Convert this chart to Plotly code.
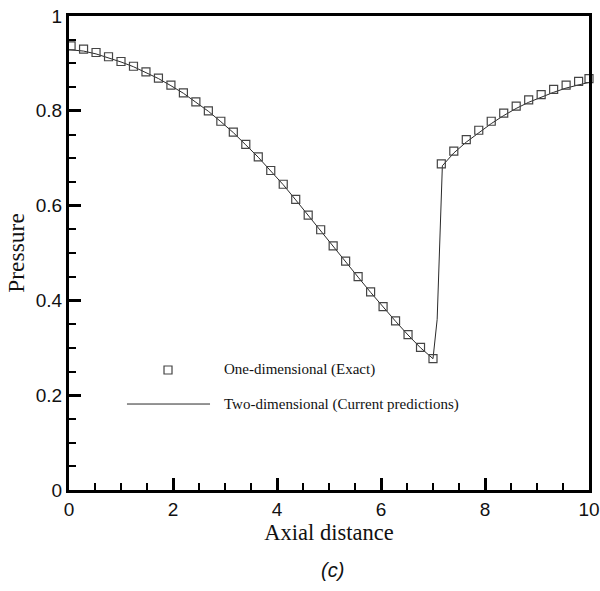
import plotly.graph_objects as go

# One-dimensional exact solution (square markers)
exact_x = [0.04, 0.28, 0.52, 0.76, 1.00, 1.24, 1.48, 1.72, 1.96, 2.20,
           2.44, 2.68, 2.92, 3.16, 3.40, 3.64, 3.88, 4.12, 4.36, 4.60,
           4.84, 5.08, 5.32, 5.56, 5.80, 6.04, 6.28, 6.52, 6.76, 7.00,
           7.16, 7.40, 7.64, 7.88, 8.12, 8.36, 8.60, 8.84, 9.08, 9.32,
           9.56, 9.80, 10.00]
exact_p = [0.937, 0.930, 0.923, 0.914, 0.904, 0.894, 0.882, 0.869, 0.854, 0.838,
           0.819, 0.800, 0.778, 0.755, 0.729, 0.703, 0.674, 0.645, 0.613, 0.580,
           0.549, 0.515, 0.483, 0.450, 0.418, 0.387, 0.357, 0.328, 0.301, 0.277,
           0.688, 0.715, 0.739, 0.759, 0.778, 0.795, 0.810, 0.823, 0.834, 0.845,
           0.854, 0.862, 0.868]

# Two-dimensional computed solution (solid line)
pred_x = [0.00, 0.28, 0.52, 0.76, 1.00, 1.24, 1.48, 1.72, 1.96, 2.20,
          2.44, 2.68, 2.92, 3.16, 3.40, 3.64, 3.88, 4.12, 4.36, 4.60,
          4.84, 5.08, 5.32, 5.56, 5.80, 6.04, 6.28, 6.52, 6.76, 7.00,
          7.08, 7.18, 7.40, 7.64, 7.88, 8.12, 8.36, 8.60, 8.84, 9.08,
          9.32, 9.56, 9.80, 10.00]
pred_p = [0.929, 0.926, 0.920, 0.912, 0.903, 0.893, 0.881, 0.868, 0.853, 0.837,
          0.818, 0.799, 0.777, 0.754, 0.728, 0.702, 0.673, 0.644, 0.612, 0.579,
          0.548, 0.514, 0.482, 0.449, 0.417, 0.386, 0.356, 0.327, 0.300, 0.277,
          0.360, 0.684, 0.711, 0.734, 0.754, 0.773, 0.790, 0.805, 0.818, 0.829,
          0.839, 0.848, 0.855, 0.860]

x_ticks = [0, 2, 4, 6, 8, 10]
y_ticks = [0, 0.2, 0.4, 0.6, 0.8, 1]

legend_labels = ["One-dimensional (Exact)", "Two-dimensional (Current predictions)"]
panel_label = "(c)"

fig = go.Figure()

fig.add_trace(go.Scatter(
    x=pred_x, y=pred_p, mode="lines",
    line=dict(color="#2a2a2a", width=1),
    showlegend=False, cliponaxis=False,
))
fig.add_trace(go.Scatter(
    x=exact_x, y=exact_p, mode="markers",
    marker=dict(symbol="square-open", size=8, color="#444444",
                line=dict(width=1.2, color="#444444")),
    showlegend=False, cliponaxis=False,
))

axis_common = dict(
    showline=True, linewidth=3, linecolor="black", mirror=True,
    ticks="inside", ticklen=12, tickwidth=3, tickcolor="black",
    showgrid=False, zeroline=False, automargin=False,
    tickfont=dict(family="Liberation Sans, Arial, sans-serif", size=19, color="#111"),
    minor=dict(ticks="inside", ticklen=7, tickwidth=1.5, tickcolor="black",
               showgrid=False),
)

fig.update_xaxes(
    range=[0, 10], tickvals=x_ticks, ticktext=[str(v) for v in x_ticks],
    minor_dtick=0.5,
    title=dict(text="Axial distance", standoff=3,
               font=dict(family="Liberation Serif, Times New Roman, serif",
                         size=22.5, color="#111")),
    **axis_common,
)
fig.update_yaxes(
    range=[0, 1], tickvals=y_ticks, ticktext=["0", "0.2", "0.4", "0.6", "0.8", "1"],
    minor_dtick=0.05,
    title=dict(text="Pressure", standoff=5,
               font=dict(family="Liberation Serif, Times New Roman, serif",
                         size=23.5, color="#111")),
    **axis_common,
)

# In-plot legend: marker sample, line sample and labels
legend_font = dict(family="Liberation Serif, Times New Roman, serif", size=15, color="#111")
fig.add_shape(type="rect", xref="paper", yref="paper",
              xsizemode="pixel", ysizemode="pixel",
              xanchor=0.1904, yanchor=0.2532, x0=-4, x1=4, y0=-4, y1=4,
              line=dict(color="#444444", width=1.2), fillcolor="rgba(0,0,0,0)")
fig.add_shape(type="line", xref="paper", yref="paper",
              x0=0.1115, x1=0.2712, y0=0.1814, y1=0.1814,
              line=dict(color="#2a2a2a", width=1))
fig.add_annotation(text=legend_labels[0], xref="paper", yref="paper",
                   x=0.2942, y=0.2532, xanchor="left", yanchor="middle",
                   showarrow=False, font=legend_font)
fig.add_annotation(text=legend_labels[1], xref="paper", yref="paper",
                   x=0.2942, y=0.1814, xanchor="left", yanchor="middle",
                   showarrow=False, font=legend_font)

fig.add_annotation(text=panel_label, xref="paper", yref="paper",
                   x=0.506, y=-0.169, xanchor="center", yanchor="middle",
                   showarrow=False,
                   font=dict(family="Liberation Sans, Arial, sans-serif", size=20,
                             color="#111", style="italic"))

fig.update_layout(
    width=600, height=591,
    margin=dict(l=69, r=11, t=16, b=101),
    paper_bgcolor="white", plot_bgcolor="white",
    showlegend=False,
)

fig.write_html("out.html")
